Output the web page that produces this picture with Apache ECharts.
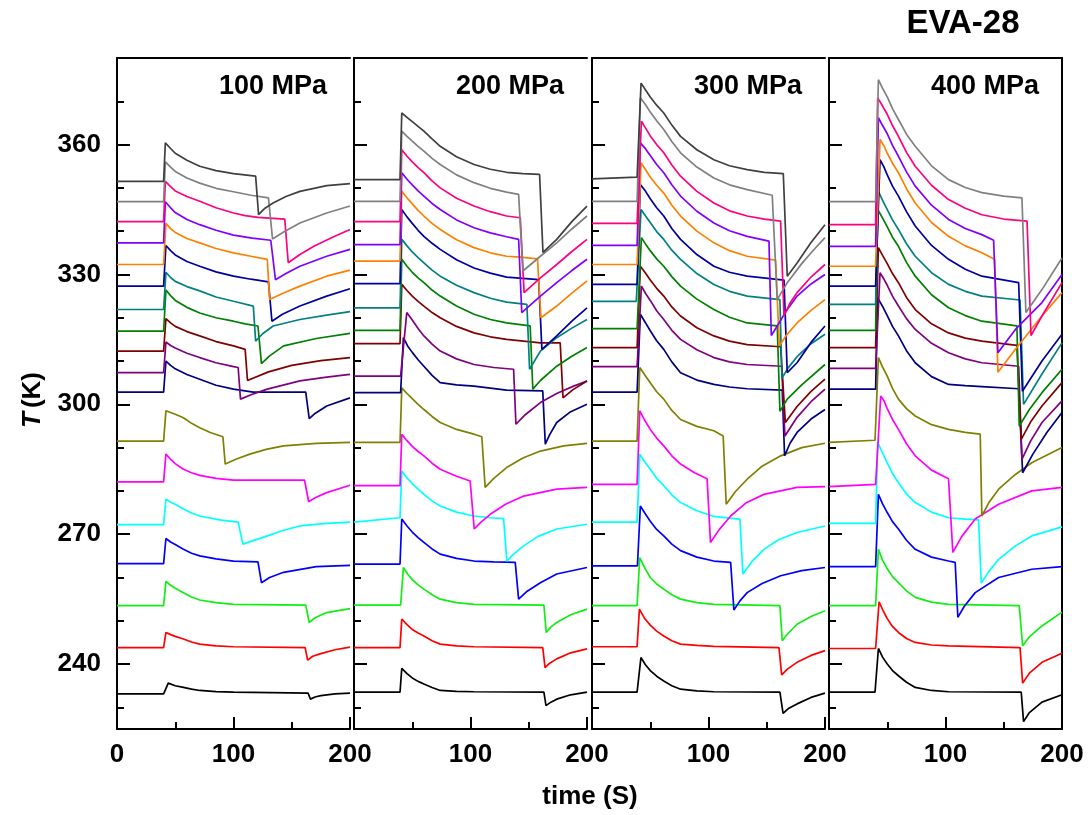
<!DOCTYPE html>
<html>
<head>
<meta charset="utf-8">
<script src="https://cdn.jsdelivr.net/npm/echarts@6/dist/echarts.min.js"></script>
<style>
  html, body { margin: 0; padding: 0; background: #fff; }
  #chart { width: 1090px; height: 815px; }
</style>
</head>
<body>
<div id="chart"></div>
<script>
// Origin default colours, bottom curve first
var colors = ['#000000', '#ff0000', '#11ee11', '#0000ff', '#00ffff', '#ff00ff', '#808000', '#000080', '#800080',
  '#800000', '#008000', '#008080', '#0000a0', '#ff8000', '#8000ff', '#ff0080', '#808080', '#404040'];

var panelNames = ['100 MPa', '200 MPa', '300 MPa', '400 MPa'];
var yLabels = [240, 270, 300, 330, 360];
var xLabels = [0, 100, 200];

// [time (s), T (K)]
var p100 = [
  [[0,233.1],[40,233.1],[44,235.6],[50,235.0],[57,234.6],[64,234.2],[71,233.9],[85,233.65],[100,233.5],[164,233.3],[166,231.9],[170,232.4],[175,232.7],[187,233.1],[200,233.3]],
  [[0,243.8],[40,243.8],[42,247.3],[46,246.8],[50,246.4],[57,245.8],[64,245.1],[71,244.6],[85,244.2],[100,244.0],[161.5,243.8],[163.6,240.9],[168,241.8],[175,242.4],[187,243.3],[200,243.9]],
  [[0,253.5],[40,253.5],[42,259.1],[46,258.2],[50,257.5],[57,256.5],[64,255.5],[71,254.8],[85,254.2],[100,253.8],[162,253.6],[165,249.6],[170,250.7],[180,251.9],[200,252.8]],
  [[0,263.2],[40,263.2],[42,269.0],[46,268.2],[50,267.6],[57,266.5],[64,265.6],[71,265.0],[85,264.3],[100,263.8],[121,263.6],[124,258.8],[131,260.0],[143,261.2],[171,262.5],[200,262.8]],
  [[0,272.2],[40,272.2],[42,278.1],[46,277.4],[50,276.9],[57,275.8],[64,274.9],[71,274.2],[88,273.3],[104,272.8],[108,267.7],[129,269.6],[143,270.9],[157,271.9],[180,272.5],[200,272.8]],
  [[0,282.1],[40,282.1],[42,288.5],[46,287.3],[50,286.3],[57,285.0],[64,284.2],[71,283.6],[85,282.9],[100,282.5],[161,282.5],[164.5,277.5],[170,278.4],[180,279.6],[200,281.3]],
  [[0,291.5],[40,291.5],[42,298.5],[50,297.7],[57,296.9],[64,295.6],[71,294.6],[80,293.5],[90.9,292.5],[92.9,286.2],[102,287.3],[114,288.5],[128,289.6],[143,290.4],[171,291.0],[200,291.2]],
  [[0,302.8],[40,302.8],[42,310.0],[46,309.0],[50,308.2],[60,306.9],[71,305.8],[85,304.4],[100,303.5],[117,302.8],[162,302.8],[165,296.7],[170,297.9],[180,299.6],[200,301.5]],
  [[0,307.3],[40,307.3],[42,314.4],[46,313.6],[50,313.0],[60,311.8],[71,310.8],[85,309.6],[100,308.7],[104,308.5],[106,301.2],[115,302.2],[129,303.5],[157,305.4],[180,306.3],[200,306.9]],
  [[0,312.3],[40,312.3],[42,319.8],[46,318.8],[50,318.0],[60,316.8],[71,315.8],[85,314.5],[100,313.5],[110,312.7],[112,305.5],[130,307.5],[150,309.0],[175,310.1],[200,310.8]],
  [[0,316.9],[40,316.9],[42,326.4],[46,325.1],[50,324.0],[60,322.4],[71,321.1],[85,320.0],[100,319.2],[110,318.6],[121,318.1],[124,309.4],[131,311.2],[143,313.5],[171,315.2],[200,316.4]],
  [[0,321.9],[40,321.9],[42,330.5],[46,329.3],[50,328.4],[60,327.2],[71,326.2],[85,324.8],[100,323.8],[117,322.7],[119,314.6],[125,316.3],[134,318.1],[157,319.6],[180,320.6],[200,321.4]],
  [[0,327.3],[40,327.3],[42,336.7],[46,335.5],[50,334.5],[60,333.0],[71,331.9],[85,330.6],[100,329.6],[115,328.9],[130,328.3],[133,319.2],[142,320.8],[157,322.7],[180,325.0],[200,326.7]],
  [[0,332.3],[40,332.3],[42,341.8],[46,340.6],[50,339.7],[60,338.3],[71,337.3],[85,336.0],[100,335.0],[115,334.2],[129,333.5],[131,324.2],[142,325.6],[157,327.3],[180,329.6],[200,331.0]],
  [[0,337.3],[40,337.3],[41.5,346.8],[46,345.4],[50,344.3],[60,342.7],[71,341.5],[85,340.2],[100,339.1],[116,338.4],[132,337.9],[136,328.8],[145,330.2],[157,331.9],[180,334.2],[200,335.8]],
  [[0,342.2],[40,342.2],[41.5,351.5],[46,350.3],[50,349.3],[60,348.0],[71,346.9],[85,345.4],[100,344.2],[110,343.6],[121,343.2],[144,342.8],[147,332.7],[157,334.6],[169,336.5],[185,338.6],[200,340.4]],
  [[0,346.8],[40,346.8],[41.5,356.0],[46,354.8],[50,353.8],[60,352.3],[71,351.1],[85,349.9],[100,349.1],[115,348.3],[130,347.7],[133.5,338.2],[143,339.8],[157,341.9],[180,344.2],[200,345.8]],
  [[0,351.5],[40,351.5],[41.5,360.4],[46,359.1],[50,358.0],[60,356.4],[71,355.0],[85,354.0],[100,353.3],[119,352.7],[121.5,343.8],[127,345.3],[134,346.5],[145,348.0],[157,349.2],[180,350.5],[200,351.0]]
];

var p200 = [
  [[0,233.5],[39.5,233.5],[41,239.0],[45.5,237.8],[50,236.8],[55,236.0],[60,235.4],[67,234.6],[74,233.9],[88,233.7],[103,233.6],[163,233.5],[164.8,230.4],[169,231.2],[174,231.9],[186,232.9],[200,233.5]],
  [[0,243.8],[39.5,243.8],[41,250.4],[45.5,249.1],[50,248.0],[55,247.2],[60,246.5],[67,245.4],[74,244.6],[88,244.2],[103,244.0],[162,243.8],[164,239.2],[168,240.2],[174,241.2],[186,242.6],[200,243.5]],
  [[0,253.6],[40,253.6],[42.4,262.3],[46,260.8],[50,259.5],[55,258.3],[60,257.3],[67,256.0],[74,255.0],[88,254.2],[103,253.8],[163,253.6],[165,247.3],[169,248.6],[174,249.6],[186,251.4],[200,252.7]],
  [[0,263.1],[39.5,263.1],[41,273.5],[45.5,271.9],[50,270.5],[55,269.2],[60,268.1],[67,266.6],[74,265.4],[88,264.4],[103,263.8],[120,263.6],[138.4,263.5],[141.3,255.0],[148,256.7],[160,258.8],[174,260.8],[200,262.3]],
  [[0,272.8],[39.5,273.8],[41,284.6],[45.5,283.0],[50,281.7],[55,280.4],[60,279.2],[67,277.7],[74,276.5],[88,275.1],[103,274.2],[117,273.8],[128.4,273.6],[131.2,263.8],[137,265.4],[145.6,267.3],[158,269.5],[174,271.2],[200,272.3]],
  [[0,281.2],[39.5,281.2],[41,293.1],[45.5,291.6],[50,290.3],[55,289.1],[60,288.1],[67,286.4],[74,285.0],[88,283.4],[99.7,282.3],[103.2,271.2],[109,272.8],[117,274.6],[130,276.9],[145.6,278.8],[174,280.4],[200,280.8]],
  [[0,291.2],[39.5,291.2],[41,303.8],[45.5,302.5],[50,301.3],[55,300.0],[60,298.8],[67,297.2],[74,295.8],[88,294.2],[103,293.1],[109.7,292.5],[112.6,280.8],[120,282.9],[131,285.4],[145,287.6],[160,289.2],[180,290.4],[200,291.0]],
  [[0,302.7],[40,302.7],[42.4,315.4],[46,313.5],[50,312.0],[55,310.3],[60,308.8],[67,306.7],[74,305.0],[88,304.5],[103,304.2],[131,303.3],[162,303.1],[164.2,290.8],[168,293.0],[174,295.8],[186,298.3],[200,300.0]],
  [[0,306.5],[40,306.5],[45.3,321.2],[50,319.5],[55,317.5],[60,315.8],[67,313.9],[74,312.3],[88,310.5],[103,309.2],[120,308.5],[137,308.1],[139,295.4],[147,297.6],[160,300.4],[174,302.5],[188.5,304.2],[200,305.4]],
  [[0,314.0],[39.5,314.0],[41,327.7],[45.5,326.3],[50,325.0],[55,323.8],[60,322.7],[67,321.2],[74,320.0],[88,318.0],[103,316.5],[117,315.6],[131,315.0],[160,314.2],[177,314.2],[179.4,301.5],[188,303.4],[200,305.4]],
  [[0,317.1],[39.5,317.1],[41,333.5],[45.5,331.9],[50,330.5],[55,329.2],[60,328.1],[67,326.4],[74,325.0],[88,322.7],[103,320.8],[117,319.6],[131,318.8],[151.2,318.1],[153.5,303.5],[160,305.5],[174,308.8],[187,311.1],[200,313.1]],
  [[0,322.3],[39.5,322.3],[41,338.1],[45.5,336.6],[50,335.2],[55,333.9],[60,332.7],[67,331.0],[74,329.6],[88,327.5],[103,325.8],[117,324.5],[131,323.6],[148.4,323.1],[150.7,308.1],[160,312.3],[174,315.4],[187,317.6],[200,319.6]],
  [[0,327.9],[39.5,327.9],[41,345.0],[45.5,343.3],[50,341.8],[55,340.2],[60,338.8],[67,337.2],[74,335.8],[88,333.4],[103,331.5],[117,330.3],[131,329.4],[158.5,328.8],[161.3,312.7],[174,315.8],[187,319.2],[200,322.3]],
  [[0,333.1],[39.5,333.1],[41,349.2],[45.5,347.7],[50,346.3],[55,344.8],[60,343.5],[67,341.8],[74,340.4],[88,338.0],[103,336.2],[117,335.0],[131,334.2],[142.7,334.0],[157.5,333.6],[160.5,320.0],[174,322.7],[187,325.7],[200,328.5]],
  [[0,336.9],[39.5,336.9],[41,353.5],[45.5,352.0],[50,350.7],[55,349.3],[60,348.1],[67,346.4],[74,345.0],[88,342.6],[103,340.8],[117,339.6],[131,338.7],[141.3,338.1],[144,321.2],[160,325.0],[174,328.1],[187,330.9],[200,333.5]],
  [[0,342.2],[39.5,342.2],[41,358.8],[45.5,357.3],[50,356.0],[55,354.7],[60,353.5],[67,351.6],[74,350.0],[88,347.6],[103,345.8],[117,344.5],[131,343.5],[142.7,343.1],[146,325.8],[160,329.2],[174,332.3],[187,335.3],[200,338.1]],
  [[0,346.9],[39.5,346.9],[41,363.1],[45.5,361.9],[50,360.8],[55,359.6],[60,358.5],[67,356.8],[74,355.4],[88,353.0],[103,351.2],[117,349.9],[131,349.0],[141.3,348.5],[145,330.8],[160,334.2],[174,337.3],[187,340.5],[200,343.5]],
  [[0,351.9],[39.5,351.9],[41,367.3],[45.5,366.3],[50,365.3],[55,364.2],[60,363.1],[67,361.3],[74,359.6],[88,357.2],[103,355.4],[117,354.3],[131,353.6],[145,353.3],[159.3,353.1],[162.2,335.1],[174,338.1],[187,342.2],[200,345.8]]
];

var p300 = [
  [[0,233.5],[38.7,233.5],[42,241.5],[46,239.8],[50,238.5],[55.5,237.2],[61.6,236.1],[68.5,235.0],[76,234.2],[90,233.8],[104.6,233.6],[161.3,233.5],[164,228.6],[169,229.8],[176,230.8],[188,232.3],[200,233.3]],
  [[0,244.0],[38.7,244.0],[40.7,252.7],[45,250.6],[50,249.0],[55.5,247.6],[61.6,246.5],[68.5,245.4],[76,244.6],[90,244.3],[104.6,244.1],[160.5,243.8],[162.8,237.5],[168,238.9],[176,240.4],[188,242.0],[200,243.1]],
  [[0,253.5],[38.7,253.5],[41,264.6],[45.5,262.1],[50,260.0],[55.5,258.5],[61.6,257.3],[68.5,256.0],[76,255.0],[90,254.2],[104.6,253.8],[161.3,253.5],[163.3,245.4],[168,247.0],[176,249.2],[188,251.0],[200,252.3]],
  [[0,262.7],[39,262.7],[41.5,276.5],[46,274.6],[50,273.0],[55.5,271.1],[61.6,269.6],[68.5,267.7],[76,266.2],[90,264.7],[104.6,263.8],[119,263.5],[121.8,252.5],[127,254.6],[133.2,256.5],[146,258.6],[162,260.4],[180,261.6],[200,262.3]],
  [[0,272.8],[38.7,272.8],[41,288.5],[45.5,286.6],[50,285.0],[55.5,282.9],[61.6,281.2],[68.5,279.1],[76,277.3],[90,275.4],[104.6,274.1],[118,273.7],[127,273.5],[129.5,260.8],[137,263.6],[147.6,266.5],[160,268.7],[176,270.4],[200,271.9]],
  [[0,281.5],[38.7,281.5],[41,298.5],[45.5,296.2],[50,294.2],[55.5,292.2],[61.6,290.4],[68.5,288.1],[76,286.2],[88,284.2],[98.8,282.8],[101.7,268.1],[109,271.0],[119,274.2],[132,277.2],[147.6,279.2],[176,280.8],[200,281.0]],
  [[0,291.5],[38.7,291.5],[41,308.5],[45.5,306.7],[50,305.0],[55.5,302.9],[61.6,301.2],[68.5,298.6],[76,296.5],[90,294.9],[104.6,293.9],[112.6,292.7],[115.2,276.9],[123,279.8],[133.2,282.7],[146,285.7],[162,288.1],[180,290.0],[200,291.0]],
  [[0,302.8],[38.7,302.8],[41.5,320.8],[46,318.8],[50,317.0],[55.5,314.7],[61.6,312.7],[68.5,309.8],[76,307.3],[90,305.6],[104.6,304.6],[118,304.0],[133.2,303.6],[163.3,303.3],[165.3,288.1],[170,291.0],[176,293.5],[188,296.6],[200,298.8]],
  [[0,308.7],[38.7,308.7],[42.4,327.3],[46,325.6],[50,324.0],[55.5,321.6],[61.6,319.6],[68.5,317.1],[76,315.0],[90,312.6],[104.6,310.8],[118,309.8],[133.2,309.2],[162.8,308.8],[165.6,292.7],[176,297.0],[188,300.6],[200,303.5]],
  [[0,313.1],[38.7,313.1],[41.5,331.9],[46,330.3],[50,328.7],[55.5,326.8],[61.6,325.0],[68.5,322.5],[76,320.4],[90,317.7],[104.6,315.8],[118,314.6],[133.2,313.8],[161.9,313.3],[166,295.8],[176,299.5],[188,303.0],[200,305.8]],
  [[0,317.5],[38.7,317.5],[42.4,338.5],[46,337.0],[50,335.5],[55.5,333.6],[61.6,331.9],[68.5,329.5],[76,327.3],[90,324.3],[104.6,321.9],[118,320.1],[133.2,318.8],[159,318.1],[161.3,298.4],[167.6,301.2],[180,304.5],[200,309.2]],
  [[0,323.8],[38,323.8],[42.1,345.0],[46,343.5],[50,342.0],[55.5,339.9],[61.6,338.1],[68.5,335.6],[76,333.5],[90,330.2],[104.6,327.7],[118,326.1],[133.2,325.0],[161.3,324.2],[163,306.0],[168,308.3],[176,311.0],[188,314.0],[200,316.2]],
  [[0,327.7],[38.7,327.7],[41.5,350.8],[46,349.2],[50,347.5],[55.5,345.4],[61.6,343.5],[68.5,340.6],[76,338.1],[90,334.6],[104.6,331.9],[118,330.5],[133.2,329.6],[164.8,328.7],[167.6,307.3],[176,309.6],[188,314.3],[200,318.1]],
  [[0,332.3],[38.7,332.3],[42.1,355.8],[46,354.2],[50,352.5],[55.5,350.6],[61.6,348.8],[68.5,346.0],[76,343.5],[90,340.0],[104.6,337.3],[118,335.5],[133.2,334.2],[157.6,333.3],[160.8,313.5],[167,316.0],[176,318.8],[188,321.7],[200,324.2]],
  [[0,336.7],[38.7,336.7],[41.5,360.4],[46,359.0],[50,357.5],[55.5,355.4],[61.6,353.5],[68.5,350.7],[76,348.1],[90,344.6],[104.6,341.9],[118,340.1],[133.2,338.8],[151.9,337.7],[153.9,315.9],[159,318.1],[167,321.7],[176,325.0],[188,327.8],[200,330.0]],
  [[0,341.8],[38.7,341.8],[42.4,365.4],[46,363.8],[50,362.0],[55.5,360.0],[61.6,358.1],[68.5,355.3],[76,352.7],[90,349.2],[104.6,346.5],[118,344.7],[133.2,343.5],[148,342.8],[161.9,342.3],[164.8,320.4],[170,323.4],[176,325.8],[188,329.4],[200,332.3]],
  [[0,346.9],[38.7,346.9],[41.5,370.8],[46,369.2],[50,367.5],[55.5,365.5],[61.6,363.5],[68.5,360.7],[76,358.1],[90,354.8],[104.6,352.3],[118,350.7],[133.2,349.6],[154.7,348.3],[159,324.2],[167.6,328.1],[180,332.5],[190,335.6],[200,338.5]],
  [[0,352.1],[38.7,352.5],[42.1,374.2],[46,372.6],[50,371.0],[55.5,369.1],[61.6,367.3],[68.5,364.5],[76,361.9],[90,358.8],[104.6,356.5],[118,355.1],[133.2,354.2],[148,353.6],[164.2,353.3],[167.6,329.6],[176.2,332.7],[188,337.4],[200,341.5]]
];

var p400 = [
  [[0,233.5],[39.5,233.5],[42.4,243.6],[46,241.6],[50,240.0],[54.5,238.5],[59.6,237.3],[66.5,235.8],[74,234.6],[88,233.9],[102.6,233.6],[165,233.5],[167,226.7],[172,228.8],[182.8,231.2],[200,232.9]],
  [[0,243.6],[40,243.6],[43,254.4],[46,252.6],[50,250.5],[54.5,248.7],[59.6,247.3],[66.5,245.9],[74,245.0],[88,244.4],[102.6,244.2],[164,243.8],[166.2,235.6],[172,237.9],[182.8,240.4],[200,242.5]],
  [[0,253.5],[40,253.5],[42.4,266.5],[46,264.0],[50,262.0],[54.5,260.2],[59.6,258.8],[66.5,256.9],[74,255.4],[88,254.3],[102.6,253.8],[163.3,253.5],[166.2,244.2],[172,246.3],[182.8,248.8],[200,252.0]],
  [[0,262.5],[40,262.5],[42.4,279.2],[46,277.0],[50,275.0],[54.5,272.9],[59.6,271.2],[66.5,268.6],[74,266.5],[88,264.7],[102.6,263.8],[108.3,263.5],[110.6,250.8],[116,253.3],[125.5,256.5],[145.6,260.0],[174,261.9],[200,262.5]],
  [[0,272.5],[40,272.5],[41.8,291.2],[46,288.7],[50,286.5],[54.5,284.0],[59.6,281.9],[66.5,279.3],[74,277.3],[88,275.1],[102.6,273.8],[117,273.5],[128.4,273.3],[130.7,258.7],[137,261.3],[145.6,264.2],[160,267.3],[174,269.6],[200,271.7]],
  [[0,281.0],[40,281.5],[44.4,301.9],[47,300.9],[50,299.0],[54.5,296.5],[59.6,294.2],[66.5,290.9],[74,288.1],[88,284.8],[102.6,282.8],[104,282.7],[106.3,265.8],[114,269.5],[125.5,273.5],[145.6,276.9],[174,280.0],[200,280.8]],
  [[0,291.2],[39.5,291.7],[42.4,310.8],[46,308.6],[50,306.5],[54.5,303.7],[59.6,301.2],[66.5,299.0],[74,297.3],[88,295.3],[102.6,294.2],[117,293.5],[129.8,293.1],[131.2,274.2],[137,277.2],[145.6,280.4],[160,283.8],[174,286.5],[200,290.0]],
  [[0,303.5],[40,303.5],[41.8,324.6],[46,322.6],[50,320.5],[54.5,318.0],[59.6,315.8],[66.5,312.4],[74,309.6],[88,306.4],[102.6,304.6],[117,304.3],[131.2,304.1],[162.8,303.6],[166.2,284.2],[175,288.5],[187,293.5],[200,298.1]],
  [[0,308.3],[40,308.3],[43.8,330.4],[47,329.0],[50,327.5],[54.5,325.0],[59.6,322.7],[66.5,319.8],[74,317.3],[88,314.1],[102.6,311.9],[117,310.5],[131.2,309.6],[162.8,308.8],[165.6,287.3],[173,291.5],[182.8,295.8],[200,300.8]],
  [[0,313.1],[40,313.1],[42.4,336.2],[46,334.4],[50,332.5],[54.5,330.2],[59.6,328.1],[66.5,324.7],[74,321.9],[88,318.6],[102.6,316.5],[117,315.3],[131.2,314.6],[161.3,313.6],[165,291.9],[173,295.9],[182.8,299.6],[200,305.0]],
  [[0,317.1],[40,317.1],[41.8,345.0],[46,343.0],[50,341.0],[54.5,338.6],[59.6,336.5],[66.5,332.8],[74,329.6],[88,325.3],[102.6,322.3],[117,320.5],[131.2,319.2],[161.3,318.1],[163.3,295.0],[172,298.8],[182.8,302.7],[200,308.1]],
  [[0,323.1],[40,323.1],[42.4,349.2],[46,347.1],[50,345.0],[54.5,342.6],[59.6,340.4],[66.5,337.1],[74,334.2],[88,330.4],[102.6,327.7],[117,326.1],[131.2,325.0],[164,324.1],[167,300.0],[182.8,307.0],[200,314.2]],
  [[0,327.3],[40,327.3],[43.8,356.5],[47,354.9],[50,353.0],[54.5,350.4],[59.6,348.1],[66.5,344.5],[74,341.2],[88,336.7],[102.6,333.5],[117,331.2],[131.2,329.6],[162.8,328.1],[166,303.0],[182.8,310.0],[200,316.2]],
  [[0,331.9],[40,331.9],[43.8,361.2],[47,359.8],[50,358.0],[54.5,355.7],[59.6,353.5],[66.5,349.8],[74,346.5],[88,342.0],[102.6,338.8],[117,336.6],[131.2,335.0],[142.1,333.5],[145,307.4],[160,312.7],[182.8,320.4],[200,325.8]],
  [[0,336.5],[40,336.5],[42.4,366.2],[46,364.4],[50,362.5],[54.5,359.8],[59.6,357.3],[66.5,353.7],[74,350.4],[88,346.0],[102.6,342.7],[117,340.6],[131.2,339.2],[141.3,337.9],[145,311.9],[160,317.3],[182.8,323.5],[200,330.0]],
  [[0,341.5],[40,341.5],[41.8,370.8],[46,368.9],[50,367.0],[54.5,364.4],[59.6,361.9],[66.5,358.2],[74,355.0],[88,350.6],[102.6,347.3],[117,345.3],[131.2,343.8],[150,342.8],[170,342.3],[173.4,315.9],[182.8,320.4],[200,328.1]],
  [[0,346.8],[40,346.8],[42.4,375.0],[46,373.0],[50,371.0],[54.5,368.3],[59.6,365.8],[66.5,362.4],[74,359.6],[88,355.1],[102.6,351.9],[117,350.1],[131.2,348.9],[150,348.1],[165.6,347.7],[169,321.2],[182.8,326.5],[200,333.8]]
];

var panels = [p100, p200, p300, p400];

var FONT = '"Liberation Sans", Arial, sans-serif';
var gridLeft = [117, 354, 592, 829];
var axisLine = { show: true, lineStyle: { color: '#000', width: 2 } };
var tickStyle = { color: '#000', width: 2 };
var noLabel = { show: false };
var noLine = { show: false };

var grids = [], xAxes = [], yAxes = [], series = [], graphics = [];

// a y axis that only draws ticks: shifted right by its tick length, ticks pointing back to the frame
function tickAxis(i, step, len) {
  return {
    gridIndex: i, type: 'value', position: 'left', offset: -len, min: 225, max: 380,
    minInterval: step, maxInterval: step,
    axisLine: noLine,
    axisTick: { show: true, inside: false, length: len, lineStyle: tickStyle },
    splitLine: { show: false }, axisLabel: noLabel
  };
}

gridLeft.forEach(function (left, i) {
  grids.push({ left: left, top: 58, width: 233, height: 671 });

  // bottom axis with labels
  xAxes.push({
    gridIndex: i, type: 'value', position: 'bottom', min: 0, max: 200, interval: 100,
    axisLine: axisLine,
    axisTick: { show: true, inside: true, length: 12, lineStyle: tickStyle },
    minorTick: { show: true, splitNumber: 2, length: 7, lineStyle: tickStyle },
    splitLine: { show: false },
    axisLabel: {
      margin: 13, color: '#000', fontFamily: FONT, fontWeight: 'bold', fontSize: 26,
      formatter: function (v) {
        if (i > 0 && v === 0) return '';
        return xLabels.indexOf(v) >= 0 ? String(v) : '';
      }
    }
  });
  // top frame line
  xAxes.push({
    gridIndex: i, type: 'value', position: 'top', min: 0, max: 200,
    axisLine: axisLine, axisTick: { show: false }, axisLabel: noLabel, splitLine: { show: false }
  });

  // frame line + labels, carries the series
  var first = yAxes.length;
  yAxes.push({
    gridIndex: i, type: 'value', position: 'left', min: 225, max: 380, minInterval: 30, maxInterval: 30,
    axisLine: axisLine, axisTick: { show: false }, splitLine: { show: false },
    axisLabel: {
      show: i === 0, margin: 16, color: '#000', fontFamily: FONT, fontWeight: 'bold', fontSize: 26,
      formatter: function (v) { return yLabels.indexOf(v) >= 0 ? String(v) : ''; }
    }
  });
  yAxes.push(tickAxis(i, 10, 7));
  yAxes.push(tickAxis(i, 30, 13));
  if (i === 3) {
    yAxes.push({
      gridIndex: i, type: 'value', position: 'right', min: 225, max: 380,
      axisLine: axisLine, axisTick: { show: false }, axisLabel: noLabel, splitLine: { show: false }
    });
  }

  panels[i].forEach(function (curve, k) {
    series.push({
      type: 'line', xAxisIndex: i * 2, yAxisIndex: first, data: curve,
      showSymbol: false, symbol: 'none', silent: true,
      lineStyle: { color: colors[k], width: 1.7 }
    });
  });

  graphics.push({
    type: 'text', x: left + 233 - 23, y: 87,
    style: { text: panelNames[i], fill: '#000', font: 'bold 27px ' + FONT, textAlign: 'right', textVerticalAlign: 'middle' }
  });
});

graphics.push({
  type: 'text', x: 963, y: 24,
  style: { text: 'EVA-28', fill: '#000', font: 'bold 33px ' + FONT, textAlign: 'center', textVerticalAlign: 'middle' }
});
graphics.push({
  type: 'text', x: 590, y: 797,
  style: { text: 'time (S)', fill: '#000', font: 'bold 26px ' + FONT, textAlign: 'center', textVerticalAlign: 'middle' }
});
graphics.push({
  type: 'text', x: 33, y: 400, rotation: Math.PI / 2,
  style: {
    text: '{i|T}{n|(K)}', textAlign: 'center', textVerticalAlign: 'middle',
    rich: {
      i: { fontFamily: FONT, fontWeight: 'bold', fontStyle: 'italic', fontSize: 26, fill: '#000', padding: [0, 4, 0, 0] },
      n: { fontFamily: FONT, fontWeight: 'bold', fontSize: 26, fill: '#000' }
    }
  }
});

var chart = echarts.init(document.getElementById('chart'), null, { renderer: 'canvas' });
chart.setOption({
  backgroundColor: '#fff',
  animation: false,
  grid: grids,
  xAxis: xAxes,
  yAxis: yAxes,
  series: series,
  graphic: graphics
});
</script>
</body>
</html>
